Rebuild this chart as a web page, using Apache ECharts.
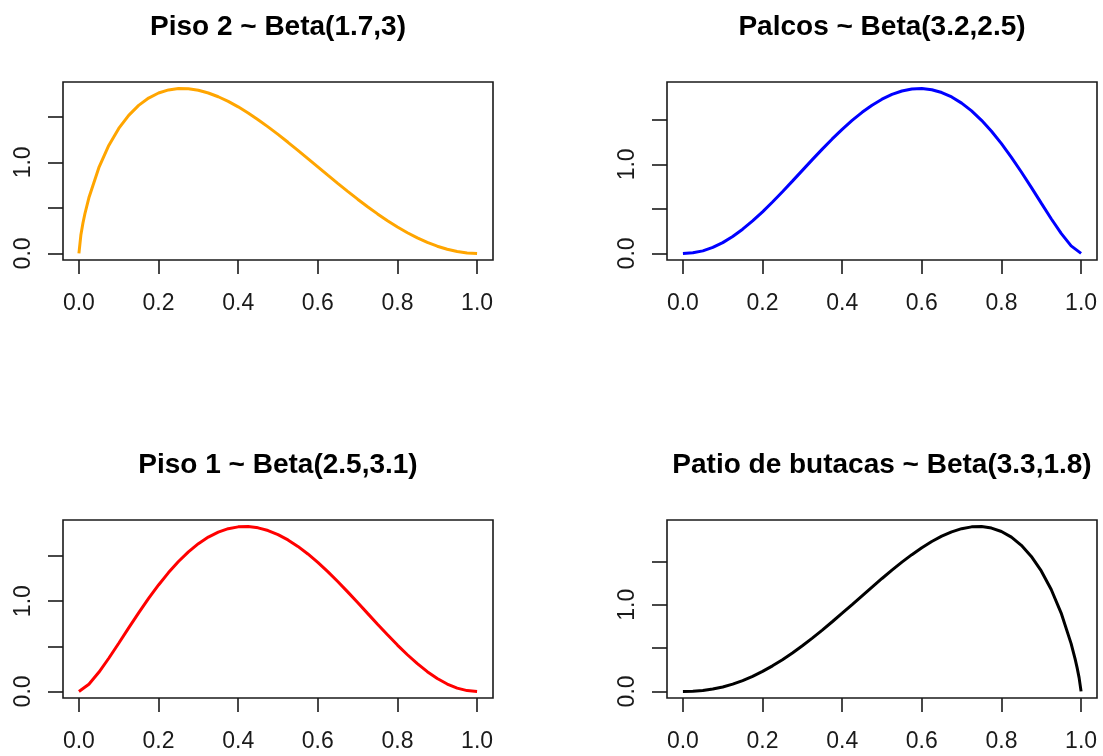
<!DOCTYPE html>
<html>
<head>
<meta charset="utf-8">
<script src="https://cdn.jsdelivr.net/npm/echarts@6/dist/echarts.min.js"></script>
<style>
  html, body { margin: 0; padding: 0; background: #ffffff; }
  #chart { width: 1103px; height: 756px; }
</style>
</head>
<body>
<div id="chart"></div>
<script>
// Panel titles
const titles = [
  'Piso 2 ~ Beta(1.7,3)',
  'Palcos ~ Beta(3.2,2.5)',
  'Piso 1 ~ Beta(2.5,3.1)',
  'Patio de butacas ~ Beta(3.3,1.8)'
];

// Axis ticks and labels
const xTicks = [0, 0.2, 0.4, 0.6, 0.8, 1.0];
const yTicks = [0, 0.5, 1.0, 1.5];
const yLabels = [0, 1.0];

// Piso 2 density (extra points near 0 where it rises steeply)
const xPiso2 = [0, 0.005, 0.01, 0.015, 0.025, 0.05, 0.075, 0.1, 0.125, 0.15, 0.175, 0.2, 0.225, 0.25, 0.275, 0.3,
  0.325, 0.35, 0.375, 0.4, 0.425, 0.45, 0.475, 0.5, 0.525, 0.55, 0.575, 0.6, 0.625, 0.65, 0.675, 0.7,
  0.725, 0.75, 0.775, 0.8, 0.825, 0.85, 0.875, 0.9, 0.925, 0.95, 0.975, 1.0];
const yPiso2 = [0, 0.2060, 0.3313, 0.4356, 0.6103, 0.9413, 1.1852, 1.3724, 1.5165, 1.6259, 1.7062, 1.7616, 1.7953, 1.8100, 1.8081, 1.7914,
  1.7617, 1.7205, 1.6694, 1.6096, 1.5424, 1.4688, 1.3899, 1.3068, 1.2203, 1.1315, 1.0412, 0.9502, 0.8593, 0.7694, 0.6812, 0.5954,
  0.5127, 0.4339, 0.3596, 0.2905, 0.2273, 0.1705, 0.1208, 0.0789, 0.0452, 0.0205, 0.0052, 0];

// Palcos density
const xPalcos = [0, 0.025, 0.05, 0.075, 0.1, 0.125, 0.15, 0.175, 0.2, 0.225, 0.25, 0.275, 0.3,
  0.325, 0.35, 0.375, 0.4, 0.425, 0.45, 0.475, 0.5, 0.525, 0.55, 0.575, 0.6, 0.625, 0.65, 0.675, 0.7,
  0.725, 0.75, 0.775, 0.8, 0.825, 0.85, 0.875, 0.9, 0.925, 0.95, 0.975, 1.0];
const yPalcos = [0, 0.0065, 0.0286, 0.0671, 0.1213, 0.1899, 0.2716, 0.3645, 0.4669, 0.5769, 0.6925, 0.8117, 0.9325,
  1.0530, 1.1713, 1.2854, 1.3935, 1.4938, 1.5847, 1.6646, 1.7319, 1.7854, 1.8237, 1.8458, 1.8508, 1.8379, 1.8066, 1.7565, 1.6875,
  1.5999, 1.4941, 1.3711, 1.2322, 1.0792, 0.9145, 0.7415, 0.5645, 0.3894, 0.2248, 0.0842, 0];

// Piso 1 density
const xPiso1 = [0, 0.025, 0.05, 0.075, 0.1, 0.125, 0.15, 0.175, 0.2, 0.225, 0.25, 0.275, 0.3,
  0.325, 0.35, 0.375, 0.4, 0.425, 0.45, 0.475, 0.5, 0.525, 0.55, 0.575, 0.6, 0.625, 0.65, 0.675, 0.7,
  0.725, 0.75, 0.775, 0.8, 0.825, 0.85, 0.875, 0.9, 0.925, 0.95, 0.975, 1.0];
const yPiso1 = [0, 0.0790, 0.2115, 0.3674, 0.5340, 0.7035, 0.8701, 1.0299, 1.1795, 1.3167, 1.4395, 1.5466, 1.6370,
  1.7101, 1.7656, 1.8033, 1.8233, 1.8262, 1.8123, 1.7825, 1.7376, 1.6786, 1.6068, 1.5233, 1.4296, 1.3273, 1.2178, 1.1030, 0.9846,
  0.8645, 0.7446, 0.6269, 0.5134, 0.4062, 0.3073, 0.2189, 0.1429, 0.0814, 0.0362, 0.0088, 0];

// Patio de butacas density (extra points near 1 where it drops steeply)
const xPatio = [0, 0.025, 0.05, 0.075, 0.1, 0.125, 0.15, 0.175, 0.2, 0.225, 0.25, 0.275, 0.3,
  0.325, 0.35, 0.375, 0.4, 0.425, 0.45, 0.475, 0.5, 0.525, 0.55, 0.575, 0.6, 0.625, 0.65, 0.675, 0.7,
  0.725, 0.75, 0.775, 0.8, 0.825, 0.85, 0.875, 0.9, 0.925, 0.95, 0.975, 0.985, 0.99, 0.995, 1.0];
const yPatio = [0, 0.0023, 0.0109, 0.0272, 0.0515, 0.0841, 0.1250, 0.1740, 0.2307, 0.2950, 0.3661, 0.4436, 0.5269,
  0.6153, 0.7079, 0.8040, 0.9027, 1.0030, 1.1040, 1.2045, 1.3034, 1.3996, 1.4917, 1.5784, 1.6584, 1.7300, 1.7916, 1.8416, 1.8781,
  1.8991, 1.9023, 1.8855, 1.8460, 1.7806, 1.6859, 1.5575, 1.3901, 1.1761, 0.9041, 0.5513, 0.3750, 0.2743, 0.1594, 0];

const FONT = '"Liberation Sans", Arial, Helvetica, sans-serif';
const INK = '#1a1a1a';
const W = 430, H = 178;

const panels = [
  { title: titles[0], xs: xPiso2,  ys: yPiso2,  color: '#FFA500', left: 63,  top: 82 },
  { title: titles[1], xs: xPalcos, ys: yPalcos, color: '#0000FF', left: 667, top: 82 },
  { title: titles[2], xs: xPiso1,  ys: yPiso1,  color: '#FF0000', left: 63,  top: 520 },
  { title: titles[3], xs: xPatio,  ys: yPatio,  color: '#000000', left: 667, top: 520 }
];

const option = {
  animation: false,
  backgroundColor: '#ffffff',
  grid: [], xAxis: [], yAxis: [], series: [], graphic: []
};

panels.forEach((p, i) => {
  const peak = Math.max(...p.ys);
  option.grid.push({
    left: p.left, top: p.top, width: W, height: H,
    show: true, borderColor: INK, borderWidth: 1.6, backgroundColor: 'transparent',
    outerBoundsMode: 'none', containLabel: false
  });
  option.xAxis.push({
    type: 'value', gridIndex: i, min: -0.04, max: 1.04, position: 'bottom',
    splitLine: { show: false },
    axisLine: { show: false, onZero: false },
    axisTick: { show: true, inside: false, length: 14, customValues: xTicks, lineStyle: { color: INK, width: 1.6 } },
    axisLabel: {
      customValues: xTicks, formatter: v => v.toFixed(1), margin: 32,
      fontSize: 23, fontFamily: FONT, color: INK
    }
  });
  option.yAxis.push({
    type: 'value', gridIndex: i, min: -0.04 * peak, max: 1.04 * peak, position: 'left',
    splitLine: { show: false },
    axisLine: { show: false, onZero: false },
    axisTick: { show: true, inside: false, length: 15, customValues: yTicks, lineStyle: { color: INK, width: 1.6 } },
    axisLabel: {
      customValues: yLabels, formatter: v => v.toFixed(1), rotate: 90, margin: 28,
      fontSize: 23, fontFamily: FONT, color: INK
    }
  });
  option.series.push({
    type: 'line', xAxisIndex: i, yAxisIndex: i,
    data: p.xs.map((x, k) => [x, p.ys[k]]),
    showSymbol: false, symbol: 'none', silent: true, clip: true,
    lineStyle: { color: p.color, width: 3 },
    itemStyle: { color: p.color }
  });
  option.graphic.push({
    type: 'text', x: p.left + W / 2, y: p.top - 69, silent: true,
    style: {
      text: p.title, fill: '#000000',
      font: 'bold 28px ' + FONT,
      align: 'center', verticalAlign: 'top',
      textAlign: 'center', textVerticalAlign: 'top'
    }
  });
});

const chart = echarts.init(document.getElementById('chart'), null, { renderer: 'canvas' });
chart.setOption(option);
</script>
</body>
</html>
